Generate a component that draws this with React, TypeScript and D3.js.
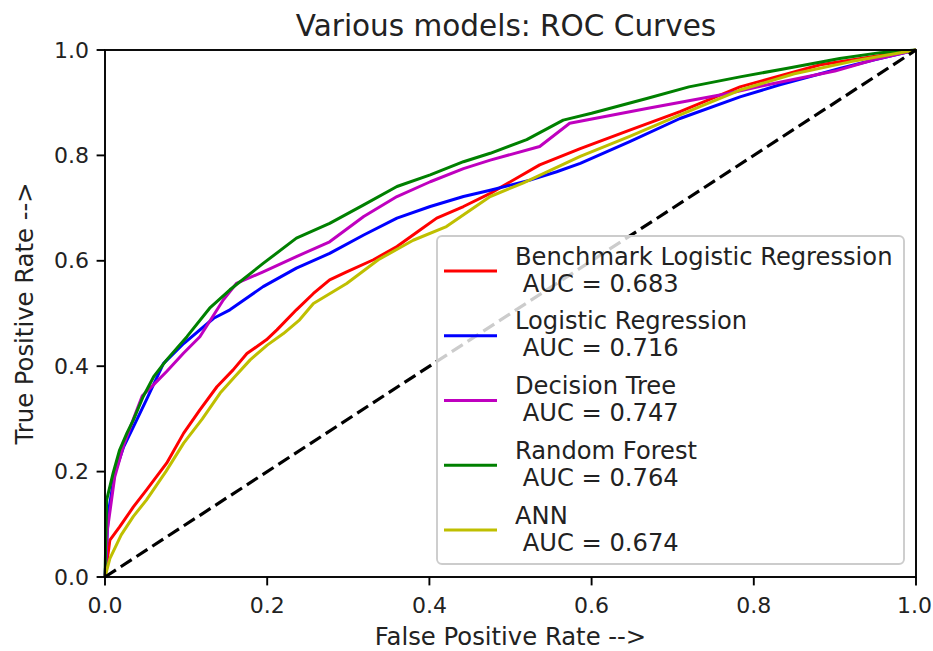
import React from "react";
import * as d3 from "d3";

const title = "Various models: ROC Curves";
const xLabel = "False Positive Rate -->";
const yLabel = "True Positive Rate -->";
const ticks = [0, 0.2, 0.4, 0.6, 0.8, 1.0];

const modelNames = ["Benchmark Logistic Regression", "Logistic Regression", "Decision Tree", "Random Forest", "ANN"];
const modelAuc = ["0.683", "0.716", "0.747", "0.764", "0.674"];
const modelColors = ["#ff0000", "#0000ff", "#bf00bf", "#008000", "#bfbf00"];

const benchFpr = [0, 0.006, 0.018, 0.035, 0.051, 0.076, 0.097, 0.117, 0.138, 0.158, 0.175, 0.199, 0.212, 0.236, 0.257, 0.277, 0.298, 0.331, 0.36, 0.388, 0.409, 0.442, 0.475, 0.536, 0.586, 0.647, 0.709, 0.783, 0.882, 1];
const benchTpr = [0, 0.07, 0.095, 0.133, 0.165, 0.216, 0.273, 0.317, 0.361, 0.393, 0.424, 0.45, 0.469, 0.507, 0.538, 0.564, 0.579, 0.602, 0.627, 0.658, 0.681, 0.703, 0.728, 0.782, 0.813, 0.848, 0.883, 0.93, 0.972, 1];

const lrFpr = [0, 0.004, 0.012, 0.023, 0.035, 0.051, 0.072, 0.097, 0.134, 0.154, 0.195, 0.236, 0.277, 0.319, 0.36, 0.401, 0.442, 0.475, 0.524, 0.557, 0.586, 0.647, 0.709, 0.783, 0.832, 0.906, 0.95, 1];
const lrTpr = [0, 0.121, 0.197, 0.247, 0.285, 0.336, 0.405, 0.443, 0.491, 0.507, 0.551, 0.586, 0.614, 0.649, 0.681, 0.703, 0.722, 0.734, 0.753, 0.769, 0.785, 0.826, 0.87, 0.911, 0.934, 0.965, 0.982, 1];

const dtFpr = [0, 0.003, 0.012, 0.023, 0.035, 0.046, 0.06, 0.076, 0.097, 0.117, 0.146, 0.162, 0.195, 0.236, 0.277, 0.319, 0.36, 0.401, 0.442, 0.475, 0.536, 0.573, 0.668, 0.77, 0.82, 0.9, 0.947, 1];
const dtTpr = [0, 0.09, 0.19, 0.25, 0.3, 0.344, 0.365, 0.39, 0.425, 0.456, 0.526, 0.557, 0.579, 0.608, 0.636, 0.684, 0.722, 0.75, 0.775, 0.791, 0.817, 0.861, 0.889, 0.918, 0.935, 0.96, 0.981, 1];

const rfFpr = [0, 0.002, 0.01, 0.018, 0.027, 0.035, 0.047, 0.06, 0.076, 0.101, 0.129, 0.154, 0.195, 0.236, 0.277, 0.319, 0.36, 0.401, 0.442, 0.475, 0.52, 0.565, 0.6, 0.668, 0.72, 0.783, 0.84, 0.906, 0.956, 1];
const rfTpr = [0, 0.146, 0.197, 0.241, 0.273, 0.298, 0.342, 0.38, 0.412, 0.456, 0.51, 0.545, 0.595, 0.643, 0.671, 0.706, 0.741, 0.763, 0.788, 0.804, 0.83, 0.867, 0.88, 0.908, 0.93, 0.949, 0.965, 0.984, 0.995, 1];

const annFpr = [0, 0.006, 0.02, 0.035, 0.051, 0.075, 0.097, 0.12, 0.142, 0.16, 0.179, 0.2, 0.22, 0.24, 0.257, 0.298, 0.337, 0.38, 0.421, 0.475, 0.516, 0.586, 0.647, 0.709, 0.783, 0.85, 0.92, 1];
const annTpr = [0, 0.035, 0.08, 0.115, 0.146, 0.2, 0.254, 0.3, 0.349, 0.38, 0.412, 0.44, 0.462, 0.488, 0.519, 0.557, 0.602, 0.639, 0.665, 0.722, 0.748, 0.798, 0.836, 0.877, 0.924, 0.955, 0.978, 1];

const curves = [
  { fpr: benchFpr, tpr: benchTpr },
  { fpr: lrFpr, tpr: lrTpr },
  { fpr: dtFpr, tpr: dtTpr },
  { fpr: rfFpr, tpr: rfTpr },
  { fpr: annFpr, tpr: annTpr },
];

const W = 933;
const H = 651;
const left = 105;
const right = 916;
const top = 50;
const bottom = 577;
const font = "'DejaVu Sans', sans-serif";

export default function App() {
  const x = d3.scaleLinear().domain([0, 1]).range([left, right]);
  const y = d3.scaleLinear().domain([0, 1]).range([bottom, top]);
  const line = d3
    .line<[number, number]>()
    .x((d) => x(d[0]))
    .y((d) => y(d[1]));
  const fmt = d3.format(".1f");

  const legX = 437;
  const legY = 236;
  const legW = 467;
  const legH = 328;
  const entryStart = 271;
  const entryStep = 64.75;

  return (
    <svg
      width={W}
      height={H}
      viewBox={`0 0 ${W} ${H}`}
      style={{ position: "absolute", left: 0, top: 0, background: "#fff" }}
      fontFamily={font}
    >
      <rect x={0} y={0} width={W} height={H} fill="#fff" />
      {curves.map((c, i) => (
        <path
          key={i}
          d={line(c.fpr.map((f, j) => [f, c.tpr[j]] as [number, number])) || ""}
          fill="none"
          stroke={modelColors[i]}
          strokeWidth={3}
          strokeLinejoin="round"
        />
      ))}
      <path
        d={line([[0, 0], [1, 1]]) || ""}
        fill="none"
        stroke="#000"
        strokeWidth={3.2}
        strokeDasharray="13 5.8"
      />
      <rect x={left} y={top} width={right - left} height={bottom - top} fill="none" stroke="#000" strokeWidth={1.9} />
      {ticks.map((t) => (
        <g key={"x" + t}>
          <line x1={x(t)} x2={x(t)} y1={bottom} y2={bottom + 8.4} stroke="#000" strokeWidth={1.9} />
          <text x={t === 1 ? x(t) - 1.5 : x(t)} y={613} textAnchor="middle" fontSize={22} fill="#222">
            {fmt(t)}
          </text>
        </g>
      ))}
      {ticks.map((t) => (
        <g key={"y" + t}>
          <line x1={left - 8.4} x2={left} y1={y(t)} y2={y(t)} stroke="#000" strokeWidth={1.9} />
          <text x={89} y={y(t)} textAnchor="end" dominantBaseline="central" fontSize={22} fill="#222">
            {fmt(t)}
          </text>
        </g>
      ))}
      <text x={(left + right) / 2} y={645} textAnchor="middle" fontSize={24.3} fill="#222">
        {xLabel}
      </text>
      <text
        transform={`translate(33, ${(top + bottom) / 2}) rotate(-90)`}
        textAnchor="middle"
        fontSize={24.3}
        fill="#222"
      >
        {yLabel}
      </text>
      <text x={506} y={36} textAnchor="middle" fontSize={29.5} fill="#222">
        {title}
      </text>
      <rect
        x={legX}
        y={legY}
        width={legW}
        height={legH}
        rx={5}
        fill="#fff"
        fillOpacity={0.8}
        stroke="#cccccc"
        strokeWidth={1.9}
      />
      {modelNames.map((name, i) => {
        const cy = entryStart + i * entryStep;
        return (
          <g key={name}>
            <line x1={444} x2={497} y1={cy} y2={cy} stroke={modelColors[i]} strokeWidth={3} />
            <text x={515} y={cy - 6.5} fontSize={24.2} fill="#222" style={{ whiteSpace: "pre" }}>
              {name}
            </text>
            <text x={515} y={cy + 20.5} fontSize={24.2} fill="#222" style={{ whiteSpace: "pre" }}>
              {" AUC = " + modelAuc[i]}
            </text>
          </g>
        );
      })}
    </svg>
  );
}
